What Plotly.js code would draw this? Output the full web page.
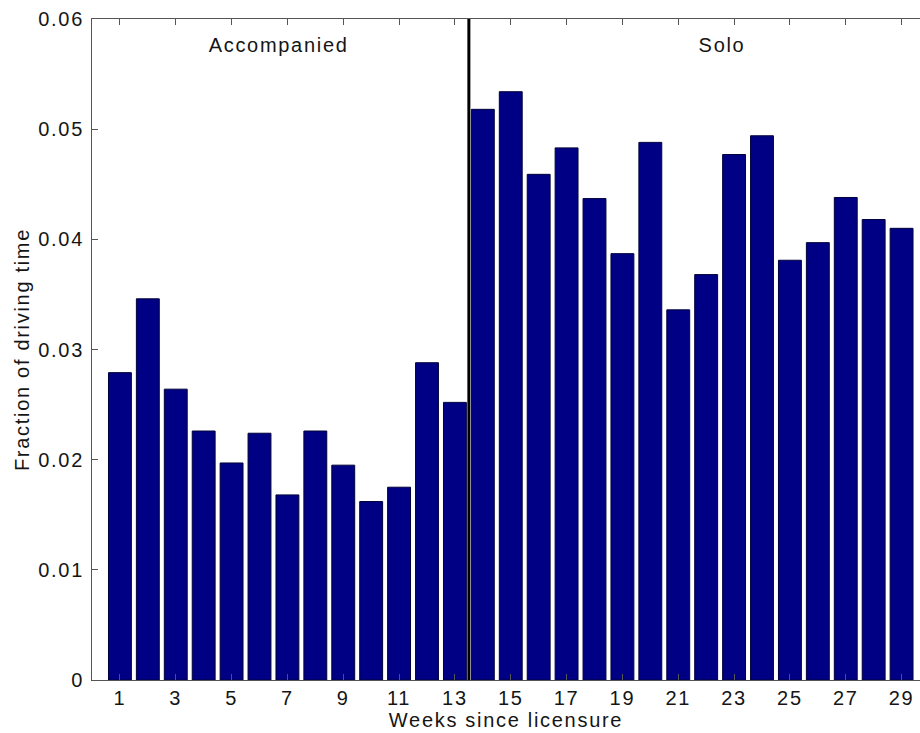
<!DOCTYPE html>
<html>
<head>
<meta charset="utf-8">
<script src="https://cdn.plot.ly/plotly-3.0.1.min.js"></script>
<style>
html, body { margin: 0; padding: 0; overflow: hidden; background: #fff; }
#chart { width: 920px; height: 733px; }
#chart text { letter-spacing: 1.7px; }
</style>
</head>
<body>
<div id="chart"></div>
<script>
// Data
const weeks = [1,2,3,4,5,6,7,8,9,10,11,12,13,14,15,16,17,18,19,20,21,22,23,24,25,26,27,28,29];
const fraction = [0.0279,0.0346,0.0264,0.0226,0.0197,0.0224,0.0168,0.0226,0.0195,0.0162,0.0175,0.0288,0.0252,
                  0.0518,0.0534,0.0459,0.0483,0.0437,0.0387,0.0488,0.0336,0.0368,0.0477,0.0494,0.0381,0.0397,0.0438,0.0418,0.0410];
const xTickVals = [1,3,5,7,9,11,13,15,17,19,21,23,25,27,29];
const xTickText = ['1','3','5','7','9','11','13','15','17','19','21','23','25','27','29'];
const yTickVals = [0,0.01,0.02,0.03,0.04,0.05,0.06];
const yTickText = ['0','0.01','0.02','0.03','0.04','0.05','0.06'];
const periodLabels = ['Accompanied','Solo'];
const periodLabelX = [6.67, 22.57];
const transitionWeek = 13.5;

const font = 'Liberation Sans, Arial, Helvetica, sans-serif';
const fs = 20;
const txt = '#151515';

const trace = {
  type: 'bar',
  x: weeks,
  y: fraction,
  width: 0.82,
  marker: { color: '#000084', line: { color: '#00003a', width: 1 } },
  hoverinfo: 'x+y'
};

const layout = {
  width: 920,
  height: 733,
  margin: { l: 92, r: 0, t: 19, b: 53 },
  paper_bgcolor: '#ffffff',
  plot_bgcolor: '#ffffff',
  showlegend: false,
  font: { family: font, size: fs, color: txt },
  xaxis: {
    range: [0, 29.66],
    tickmode: 'array',
    tickvals: xTickVals,
    ticktext: xTickText,
    ticks: 'inside',
    ticklen: 6,
    tickcolor: '#555',
    showline: true,
    linecolor: '#555',
    linewidth: 1,
    mirror: 'ticks',
    showgrid: false,
    zeroline: false,
    ticklabelstandoff: 0,
    tickfont: { family: font, size: fs, color: txt },
    title: { text: 'Weeks since licensure', font: { family: font, size: fs, color: txt }, standoff: 2 }
  },
  yaxis: {
    range: [0, 0.06],
    tickmode: 'array',
    tickvals: yTickVals,
    ticktext: yTickText,
    ticks: 'inside',
    ticklen: 6,
    tickcolor: '#555',
    showline: true,
    linecolor: '#555',
    linewidth: 1,
    mirror: false,
    showgrid: false,
    zeroline: false,
    ticklabelstandoff: 3,
    tickfont: { family: font, size: fs, color: txt },
    title: { text: 'Fraction of driving time', font: { family: font, size: fs, color: txt }, standoff: 10 }
  },
  shapes: [{
    type: 'line', xref: 'x', yref: 'paper',
    x0: transitionWeek, x1: transitionWeek, y0: 0, y1: 1,
    line: { color: '#000', width: 3 }
  }],
  annotations: periodLabels.map((t, i) => ({
    text: t, x: periodLabelX[i], y: 0.0576, xref: 'x', yref: 'y',
    showarrow: false, font: { family: font, size: fs, color: txt }
  }))
};

Plotly.newPlot('chart', [trace], layout, { displayModeBar: false, staticPlot: true });
</script>
</body>
</html>
